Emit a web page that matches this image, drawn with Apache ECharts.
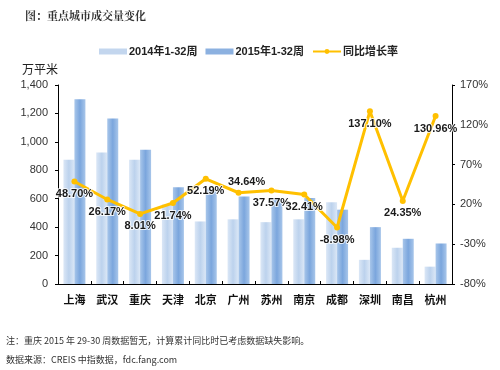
<!DOCTYPE html>
<html><head><meta charset="utf-8">
<script src="https://cdn.jsdelivr.net/npm/echarts@6/dist/echarts.min.js"></script>
<style>html,body{margin:0;padding:0;background:#fff}#c{width:500px;height:370px}</style>
</head><body><div id="c"></div>
<script>
var categories = ['上海','武汉','重庆','天津','北京','广州','苏州','南京','成都','深圳','南昌','杭州'];
var vol2014 = [875, 925, 875, 560, 440, 455, 435, 455, 575, 170, 255, 122];
var vol2015 = [1300, 1165, 945, 680, 670, 615, 600, 605, 523, 400, 318, 285];
var growth = [48.70, 26.17, 8.01, 21.74, 52.19, 34.64, 37.57, 32.41, -8.98, 137.10, 24.35, 130.96];
var leftTicks = [0, 1400, 200];
var rightTicks = [-80, 170, 50];
var seriesNames = ['2014年1-32周', '2015年1-32周', '同比增长率'];

var font = '"Liberation Sans", Arial, "Noto Sans CJK SC", sans-serif';
var chart = echarts.init(document.getElementById('c'));
function grad(edge, mid) {
  return new echarts.graphic.LinearGradient(0, 0, 1, 0, [
    {offset: 0, color: edge}, {offset: 0.5, color: mid}, {offset: 1, color: edge}]);
}
var lineData = growth.map(function (v, i) {
  var d = {value: v};
  if (i === 5) d.label = {position: 'top', offset: [8, 2]};
  return d;
});
chart.setOption({
  animation: false,
  textStyle: {fontFamily: font},
  title: {
    text: '图：重点城市成交量变化', left: 20, top: 5,
    textStyle: {fontSize: 11, fontWeight: 'bold', color: '#333', fontFamily: '"Noto Serif CJK SC", "Noto Sans CJK SC", serif'}
  },
  legend: {
    left: 94, top: 41, itemWidth: 28, itemHeight: 6, itemGap: 8,
    textStyle: {fontSize: 11, fontWeight: 'bold', color: '#222', padding: [0, 0, 0, -3], fontFamily: font},
    data: [
      {name: seriesNames[0], icon: 'rect', itemStyle: {color: '#c3d6ee'}},
      {name: seriesNames[1], icon: 'rect', itemStyle: {color: '#8cb1e0'}},
      {name: seriesNames[2]}
    ]
  },
  grid: {left: 58, right: 48, top: 85, bottom: 86},
  xAxis: {
    type: 'category', data: categories,
    axisLine: {lineStyle: {color: '#000', width: 1}},
    axisTick: {show: true, alignWithLabel: false, length: 3, inside: true, lineStyle: {color: '#000'}},
    axisLabel: {fontSize: 11, fontWeight: 'bold', color: '#111', margin: 10, fontFamily: '"Noto Sans CJK SC", sans-serif'}
  },
  yAxis: [{
    type: 'value', min: leftTicks[0], max: leftTicks[1], interval: leftTicks[2],
    name: '万平米', nameLocation: 'end', nameGap: 10,
    nameTextStyle: {fontSize: 12, color: '#222', align: 'right', fontFamily: '"Noto Sans CJK SC", sans-serif'},
    axisLine: {show: true, lineStyle: {color: '#000'}},
    axisTick: {show: true, length: 3, lineStyle: {color: '#000'}},
    splitLine: {show: false},
    axisLabel: {fontSize: 11, color: '#333', margin: 10, formatter: function (v) { return v.toLocaleString('en-US'); }}
  }, {
    type: 'value', min: rightTicks[0], max: rightTicks[1], interval: rightTicks[2],
    axisLine: {show: true, lineStyle: {color: '#000'}},
    axisTick: {show: true, length: 3, lineStyle: {color: '#000'}},
    splitLine: {show: false},
    axisLabel: {fontSize: 11, color: '#333', margin: 8, formatter: '{value}%'}
  }],
  series: [{
    name: seriesNames[0], type: 'bar', data: vol2014, barWidth: 11, barGap: '0%',
    itemStyle: {color: grad('#dbe7f6', '#bcd2ed')}
  }, {
    name: seriesNames[1], type: 'bar', data: vol2015, barWidth: 11,
    itemStyle: {color: grad('#a8c6ea', '#7ba6dd')}
  }, {
    name: seriesNames[2], type: 'line', yAxisIndex: 1, data: lineData,
    symbol: 'circle', symbolSize: 6, z: 5,
    lineStyle: {color: '#ffc000', width: 3},
    itemStyle: {color: '#ffc000'},
    label: {
      show: true, position: 'bottom', distance: 4,
      formatter: function (p) { return p.value.toFixed(2) + '%'; },
      fontSize: 11, fontWeight: 'bold', color: '#1a1a1a', fontFamily: font,
      textBorderColor: 'rgba(255,255,255,0.8)', textBorderWidth: 2
    }
  }],
  graphic: [{
    type: 'text', left: 6, top: 336,
    style: {text: '注：重庆 2015 年 29-30 周数据暂无，计算累计同比时已考虑数据缺失影响。', fontSize: 9, fill: '#333', fontFamily: '"Noto Sans CJK SC", sans-serif'}
  }, {
    type: 'text', left: 6, top: 355,
    style: {text: '数据来源：CREIS 中指数据，fdc.fang.com', fontSize: 9, fill: '#333', fontFamily: '"Noto Sans CJK SC", sans-serif'}
  }]
});
</script></body></html>
